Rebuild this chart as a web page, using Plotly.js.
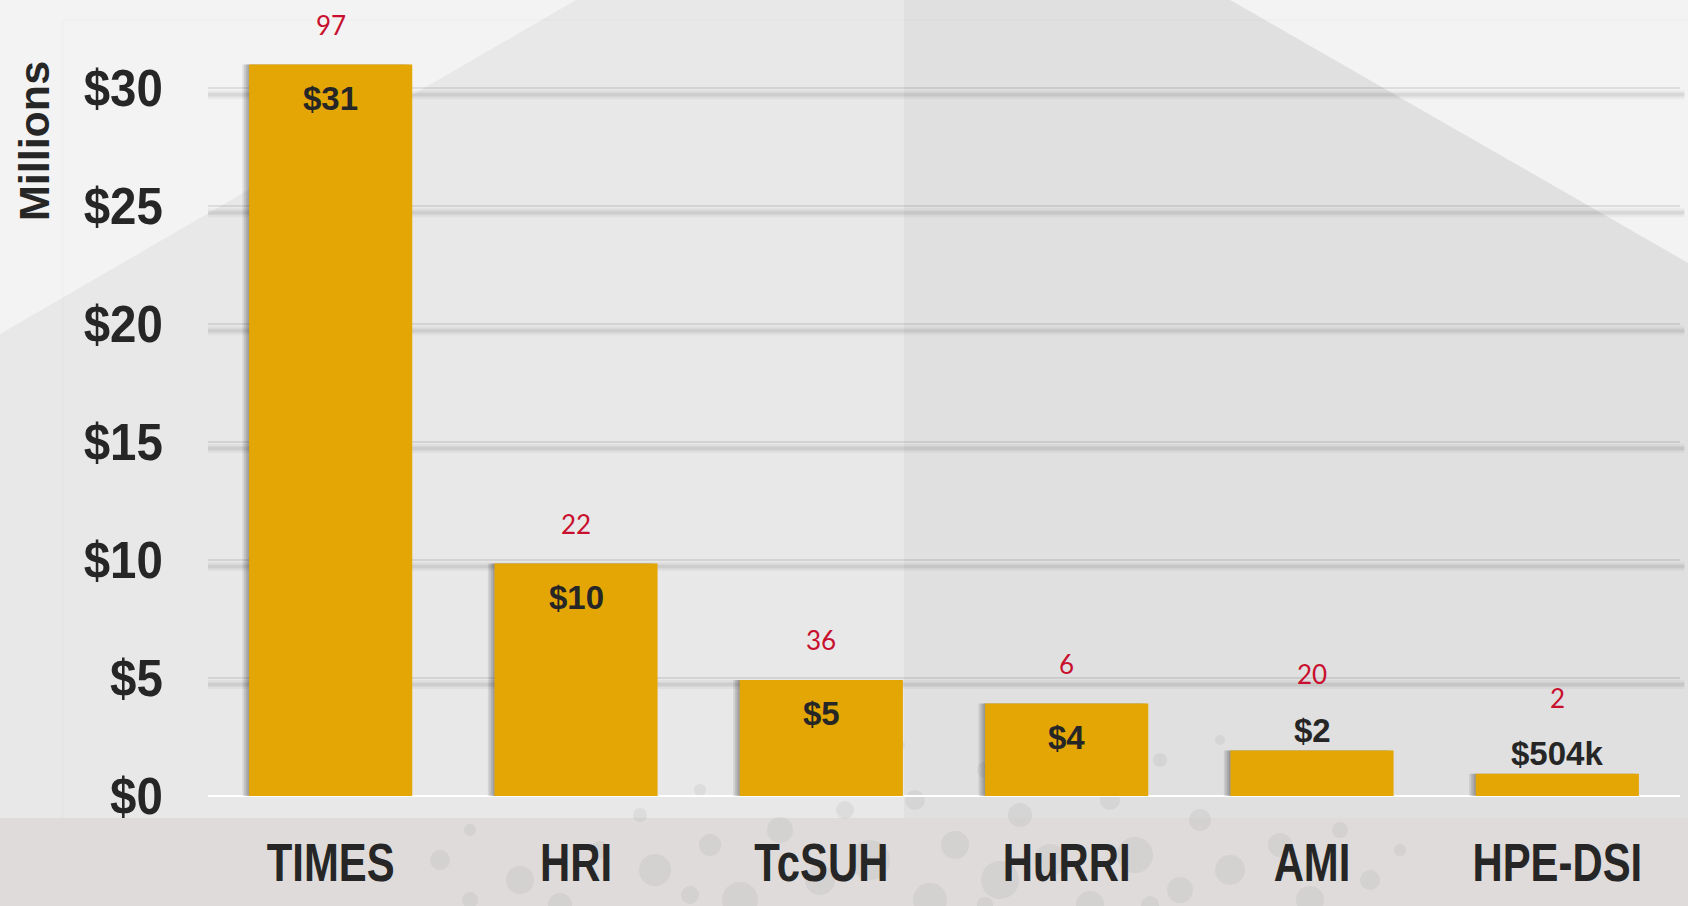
<!DOCTYPE html>
<html>
<head>
<meta charset="utf-8">
<script src="https://cdn.plot.ly/plotly-3.0.1.min.js"></script>
<style>
  html, body { margin: 0; padding: 0; background: #f3f3f3; }
  #chart { width: 1688px; height: 906px; }
</style>
</head>
<body>
<div id="chart"></div>
<script>
// ---- data ----
const categories = ['TIMES', 'HRI', 'TcSUH', 'HuRRI', 'AMI', 'HPE-DSI'];
const fundingMillions = [31.0, 9.85, 4.92, 3.92, 1.93, 0.94];
const valueLabels = ['$31', '$10', '$5', '$4', '$2', '$504k'];
const countLabels = ['97', '22', '36', '6', '20', '2'];
const yTickVals = [0, 5, 10, 15, 20, 25, 30];
const yTickText = ['$0', '$5', '$10', '$15', '$20', '$25', '$30'];

// ---- layout geometry ----
const W = 1688, H = 906;
const M = { l: 208, r: 8, t: 41, b: 110 };
const plotW = W - M.l - M.r, plotH = H - M.t - M.b;
const px = x => (x - M.l) / plotW;          // figure px -> paper x
const py = y => (H - M.b - y) / plotH;       // figure px -> paper y
const pathOf = pts => 'M' + pts.map(p => px(p[0]).toFixed(5) + ',' + py(p[1]).toFixed(5)).join(' L') + ' Z';

const barColor = '#E4A605';
const textColor = '#262626';
const barWidth = 0.665;

const traces = [];
// soft shadow to the left of each bar
[0.006, 0.013, 0.02, 0.027].forEach(d => {
  traces.push({
    type: 'bar', x: categories, y: fundingMillions,
    width: barWidth, offset: -barWidth / 2 - d,
    marker: { color: 'rgba(0,0,0,0.09)', line: { width: 0 } },
    hoverinfo: 'skip', showlegend: false
  });
});
traces.push({
  type: 'bar', x: categories, y: fundingMillions,
  width: barWidth,
  marker: { color: barColor, line: { width: 0 } },
  showlegend: false
});

// background decoration
const shapes = [
  { type: 'path', xref: 'paper', yref: 'paper', layer: 'below', line: { width: 0 },
    fillcolor: '#e8e8e8',
    path: pathOf([[0, 334], [576, 0], [1230, 0], [1688, 263], [1688, 906], [0, 906]]) },
  { type: 'path', xref: 'paper', yref: 'paper', layer: 'below', line: { width: 0 },
    fillcolor: '#e0e0e0',
    path: pathOf([[904, 0], [1230, 0], [1688, 263], [1688, 906], [904, 906]]) },
  { type: 'line', xref: 'paper', yref: 'paper', layer: 'below',
    x0: px(63), x1: px(63), y0: py(20), y1: py(906), line: { color: 'rgba(0,0,0,0.025)', width: 1 } },
  { type: 'line', xref: 'paper', yref: 'paper', layer: 'below',
    x0: px(63), x1: px(1688), y0: py(20), y1: py(20), line: { color: 'rgba(0,0,0,0.025)', width: 1 } },
  { type: 'rect', xref: 'paper', yref: 'paper', layer: 'below', line: { width: 0 },
    fillcolor: '#dedbda', x0: px(0), x1: px(1688), y0: py(818), y1: py(906) }
];
// speckled texture along the bottom (decorative)
const dots = [[440,860,10],[470,830,6],[520,880,14],[560,905,12],[600,850,9],[640,815,7],[655,870,16],
  [700,790,6],[710,845,11],[740,900,18],[780,830,13],[800,770,5],[820,880,15],[845,810,9],[870,860,20],
  [900,745,5],[915,800,10],[930,900,17],[955,845,14],[985,770,8],[1000,880,19],[1020,815,12],[1050,860,16],
  [1075,745,6],[1090,905,14],[1110,800,10],[1135,855,18],[1160,760,7],[1180,890,13],[1200,820,11],
  [1230,870,15],[1260,790,6],[1280,845,12],[1310,900,14],[1340,830,8],[1370,880,10],[1400,850,6],
  [470,900,8],[590,780,4],[1220,740,5],[760,745,5],[690,895,9],[1150,905,9],[985,905,8],[880,790,7]];
dots.forEach(d => {
  shapes.push({ type: 'circle', xref: 'paper', yref: 'paper', layer: 'below', line: { width: 0 },
    fillcolor: 'rgba(140,130,135,0.11)',
    x0: px(d[0] - d[2]), x1: px(d[0] + d[2]), y0: py(d[1] + d[2]), y1: py(d[1] - d[2]) });
});
// blurred shadow under each gridline
yTickVals.forEach(v => {
  [[-2, -11, 0.035], [-4, -9, 0.04], [-5, -8, 0.04]].forEach(s => {
    shapes.push({ type: 'rect', xref: 'paper', yref: 'y', layer: 'between',
      ysizemode: 'pixel', yanchor: v, y0: s[0], y1: s[1],
      x0: 0, x1: 1.003, line: { width: 0 }, fillcolor: 'rgba(0,0,0,' + s[2] + ')' });
  });
});

// annotations: value labels and red counts
const annotations = [];
const insideThreshold = 3;
categories.forEach((c, i) => {
  const v = fundingMillions[i];
  const inside = v >= insideThreshold;
  annotations.push({
    x: c, y: v, xref: 'x', yref: 'y', showarrow: false,
    text: valueLabels[i], yanchor: 'middle', xanchor: 'center',
    yshift: inside ? -34 : 20,
    font: { family: 'Liberation Sans, Arial, sans-serif', size: 33, weight: 700, color: textColor }
  });
  annotations.push({
    x: c, y: v, xref: 'x', yref: 'y', showarrow: false,
    text: countLabels[i], yanchor: 'middle', xanchor: 'center',
    yshift: inside ? 40 : 76,
    font: { family: 'Lato, Open Sans, sans-serif', size: 26, color: '#C8102E' }
  });
});
annotations.push({
  xref: 'paper', yref: 'paper', x: px(34), y: py(141),
  xanchor: 'center', yanchor: 'middle', textangle: -90, showarrow: false,
  text: 'Millions',
  font: { family: 'Liberation Sans, Arial, sans-serif', size: 43, weight: 700, color: textColor }
});

const layout = {
  width: W, height: H,
  margin: M,
  paper_bgcolor: '#f3f3f3',
  plot_bgcolor: 'rgba(0,0,0,0)',
  barmode: 'overlay',
  showlegend: false,
  xaxis: {
    type: 'category',
    categoryorder: 'array', categoryarray: categories,
    range: [-0.5, categories.length - 0.5],
    showgrid: false, zeroline: false, showline: false,
    ticks: 'outside', ticklen: 19, tickcolor: 'rgba(0,0,0,0)',
    tickfont: { family: 'Liberation Sans, Arial, sans-serif', size: 54, weight: 700, color: textColor },
    fixedrange: true
  },
  yaxis: {
    range: [0, 32],
    tickvals: yTickVals, ticktext: yTickText,
    showgrid: true, gridcolor: 'rgba(0,0,0,0.09)', gridwidth: 2,
    zeroline: true, zerolinecolor: '#ffffff', zerolinewidth: 2,
    showline: false,
    ticks: 'outside', ticklen: 34, tickcolor: 'rgba(0,0,0,0)',
    tickfont: { family: 'Liberation Sans, Arial, sans-serif', size: 51, weight: 700, color: textColor },
    fixedrange: true
  },
  shapes: shapes,
  annotations: annotations,
  hovermode: false
};

// condense the bold tick labels horizontally (the original uses a condensed face)
// anchor: 'center' keeps the label centred, 'end' keeps its right edge fixed
function condense(selector, ratio, anchor) {
  document.querySelectorAll(selector).forEach(t => {
    const bb = t.getBBox();
    if (!bb.width) return;
    const ax = anchor === 'end' ? bb.x + bb.width : bb.x + bb.width / 2;
    const prev = t.getAttribute('transform') || '';
    t.setAttribute('transform',
      (prev + ' translate(' + ax.toFixed(2) + ',0) scale(' + ratio + ',1) translate(' + (-ax).toFixed(2) + ',0)').trim());
  });
}

Plotly.newPlot('chart', traces, layout, { displayModeBar: false, staticPlot: true }).then(() => {
  condense('#chart .xtick text', 0.775, 'center');
  condense('#chart .ytick text', 0.93, 'end');
});
</script>
</body>
</html>
